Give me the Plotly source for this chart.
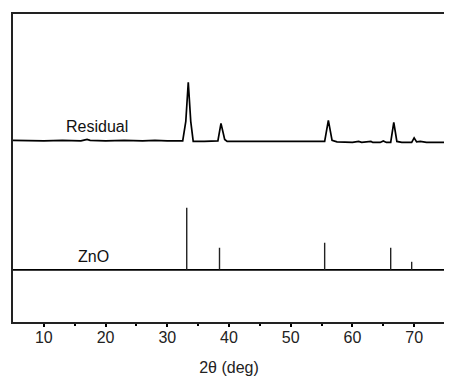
import plotly.graph_objects as go

# Residual pattern (2theta in deg, intensity in arbitrary units)
res_x = [5, 8, 10, 13, 16, 17, 17.5, 20, 23, 26, 28, 30, 32.5, 33.0, 33.4, 33.8, 34.2,
         36, 38.2, 38.7, 39.3, 39.7, 42, 45, 48, 51, 55.5, 56.1, 56.7, 57.5, 60, 61,
         61.5, 63, 63.3, 64.5, 65, 65.5, 66.2, 66.7, 67.2, 68, 69.6, 70.0, 70.4, 71, 72, 75]
res_y = [181, 180.5, 180.5, 181, 180.5, 182, 181, 180.5, 181, 180.5, 181, 180.5, 180.5, 200, 239, 200, 180,
         180, 180.5, 198, 182, 180, 180, 179.5, 180, 179.5, 180, 201, 181, 179.5, 179, 180,
         179, 180, 179, 179, 180.5, 179, 179, 199, 180, 179, 179, 183.5, 179.5, 180, 179, 179]

# ZnO reference lines
zno_pos = [33.15, 38.46, 55.5, 66.2, 69.6]
zno_int = [114, 74, 79, 74, 60]
zno_base = 52

x_ticks = [10, 20, 30, 40, 50, 60, 70]

sx, sy = [], []
for p, h in zip(zno_pos, zno_int):
    sx += [p, p, None]
    sy += [zno_base, h, None]

fig = go.Figure()
fig.add_trace(go.Scatter(x=res_x, y=res_y, mode="lines",
                         line=dict(color="black", width=1.7), hoverinfo="skip"))
fig.add_trace(go.Scatter(x=[5, 75], y=[zno_base, zno_base], mode="lines",
                         line=dict(color="black", width=1.6), hoverinfo="skip"))
fig.add_trace(go.Scatter(x=sx, y=sy, mode="lines",
                         line=dict(color="#222", width=1.4), hoverinfo="skip"))

fig.add_annotation(x=18.65, y=195, text="Residual", showarrow=False,
                   font=dict(size=16, color="#111", family="Liberation Sans, Arial"))
fig.add_annotation(x=18.1, y=65, text="ZnO", showarrow=False,
                   font=dict(size=16, color="#111", family="Liberation Sans, Arial"))

fig.update_layout(
    width=444, height=375,
    margin=dict(l=5, r=7, t=6, b=61),
    paper_bgcolor="white", plot_bgcolor="white",
    showlegend=False,
    font=dict(family="Liberation Sans, Arial", size=16, color="#222"),
    xaxis=dict(range=[5, 75], tickvals=x_ticks, ticks="outside", ticklen=3, tickwidth=1.5,
               tickcolor="black", showgrid=False, zeroline=False, ticklabelstandoff=-3,
               tickfont=dict(size=16),
               showline=True, linecolor="#222", linewidth=2, mirror=True,
               minor=dict(ticks="outside", ticklen=2, tickwidth=1.5, tickcolor="black",
                          tickvals=[15, 25, 35, 45, 55, 65]),
               title=dict(text="2θ (deg)", font=dict(size=16), standoff=17)),
    yaxis=dict(range=[0, 307], showticklabels=False, ticks="", showgrid=False,
               zeroline=False, showline=True, linecolor="#222", linewidth=2, mirror=True),
)

fig.write_html("out.html")
